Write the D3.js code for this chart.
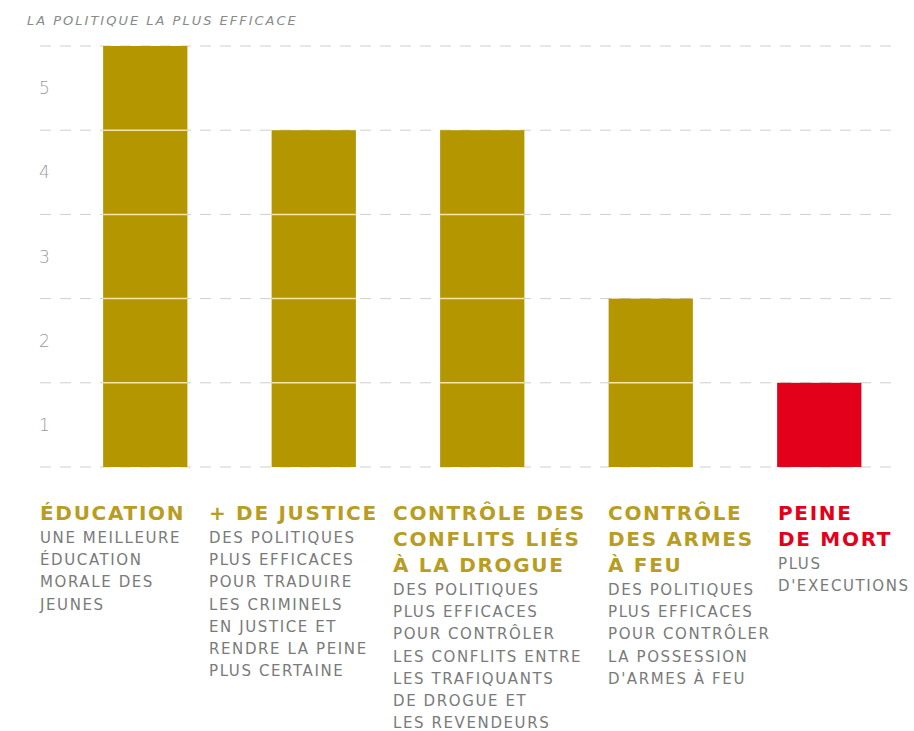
<!DOCTYPE html>
<html lang="fr">
<head>
    <meta charset="UTF-8" />
    <title>La politique la plus efficace</title>
    <script src="https://d3js.org/d3.v7.min.js"></script>
    <style>
        body {
            margin: 0;
            background: #fff;
            font-family: "DejaVu Sans", sans-serif;
        }
        .grid line {
            stroke: #cfcfcf;
            stroke-width: 1;
            stroke-dasharray: 11, 9;
        }
        .ylabel {
            font-size: 17px;
            font-weight: 300;
            fill: #9a9a9a;
        }
        .title {
            font-size: 13px;
            font-style: italic;
            fill: #8a8a8a;
            letter-spacing: 2px;
        }
        .head {
            font-size: 20px;
            font-weight: bold;
            letter-spacing: 1.7px;
        }
        .sub {
            font-size: 15px;
            fill: #7a7a7a;
            letter-spacing: 1.6px;
        }
    </style>
</head>
<body>
    <div id="chart"></div>

    <script>
        // chart data
        var categories = ["education", "justice", "drogue", "armes", "mort"];
        var values = [5, 4, 4, 2, 1];
        var yTicks = [1, 2, 3, 4, 5];
        var headers = [
            ["ÉDUCATION"],
            ["+ DE JUSTICE"],
            ["CONTRÔLE DES", "CONFLITS LIÉS", "À LA DROGUE"],
            ["CONTRÔLE", "DES ARMES", "À FEU"],
            ["PEINE", "DE MORT"]
        ];
        var subtitles = [
            ["UNE MEILLEURE", "ÉDUCATION", "MORALE DES", "JEUNES"],
            ["DES POLITIQUES", "PLUS EFFICACES", "POUR TRADUIRE", "LES CRIMINELS", "EN JUSTICE ET", "RENDRE LA PEINE", "PLUS CERTAINE"],
            ["DES POLITIQUES", "PLUS EFFICACES", "POUR CONTRÔLER", "LES CONFLITS ENTRE", "LES TRAFIQUANTS", "DE DROGUE ET", "LES REVENDEURS"],
            ["DES POLITIQUES", "PLUS EFFICACES", "POUR CONTRÔLER", "LA POSSESSION", "D'ARMES À FEU"],
            ["PLUS", "D'EXECUTIONS"]
        ];
        var highlight = "mort";

        var w = 914;
        var h = 731;
        var gold = "#b49600";
        var goldText = "#b89d22";
        var red = "#e2001a";

        // left edge of each label column
        var labelLeft = [40, 209, 393, 608, 778];

        var svg = d3.select("#chart")
            .append("svg")
            .attr("width", w)
            .attr("height", h);

        var xScale = d3.scaleBand()
            .domain(categories)
            .range([61, 903.5])
            .paddingInner(0.5)
            .paddingOuter(0.25);

        var yScale = d3.scaleLinear()
            .domain([0, 5])
            .range([467, 46]);

        svg.append("text")
            .attr("class", "title")
            .attr("x", 27)
            .attr("y", 25)
            .text("LA POLITIQUE LA PLUS EFFICACE");

        // dashed grid lines
        svg.append("g")
            .attr("class", "grid")
            .selectAll("line")
            .data(d3.range(0, 6))
            .join("line")
            .attr("x1", 40)
            .attr("x2", 895)
            .attr("y1", function(d) { return yScale(d); })
            .attr("y2", function(d) { return yScale(d); });

        // y labels sit between grid lines
        svg.selectAll(".ylabel")
            .data(yTicks)
            .join("text")
            .attr("class", "ylabel")
            .attr("x", 39)
            .attr("y", function(d) { return yScale(d - 0.5) + 6; })
            .text(function(d) { return d; });

        // bars
        svg.selectAll(".bar")
            .data(categories)
            .join("rect")
            .attr("class", "bar")
            .attr("x", function(d) { return xScale(d); })
            .attr("width", xScale.bandwidth())
            .attr("y", function(d, i) { return yScale(values[i]); })
            .attr("height", function(d, i) { return yScale(0) - yScale(values[i]); })
            .attr("fill", function(d) { return d === highlight ? red : gold; });

        // thin light separators at each unit inside the bars
        categories.forEach(function(c, i) {
            svg.selectAll(".sep-" + i)
                .data(d3.range(1, values[i]))
                .join("line")
                .attr("x1", xScale(c))
                .attr("x2", xScale(c) + xScale.bandwidth())
                .attr("y1", function(d) { return yScale(d); })
                .attr("y2", function(d) { return yScale(d); })
                .attr("stroke", "#f6e7a6")
                .attr("stroke-width", 1.5);
        });

        // category labels
        categories.forEach(function(c, i) {
            var g = svg.append("g");
            var x = labelLeft[i];
            var headBase = 520;
            var headStep = 26;
            g.selectAll(".head")
                .data(headers[i])
                .join("text")
                .attr("class", "head")
                .attr("x", x)
                .attr("y", function(d, j) { return headBase + j * headStep; })
                .attr("fill", c === highlight ? red : goldText)
                .text(function(d) { return d; });

            var subBase = headBase + (headers[i].length - 1) * headStep + 23;
            g.selectAll(".sub")
                .data(subtitles[i])
                .join("text")
                .attr("class", "sub")
                .attr("x", x)
                .attr("y", function(d, j) { return subBase + j * 22.2; })
                .text(function(d) { return d; });
        });
    </script>
</body>
</html>
